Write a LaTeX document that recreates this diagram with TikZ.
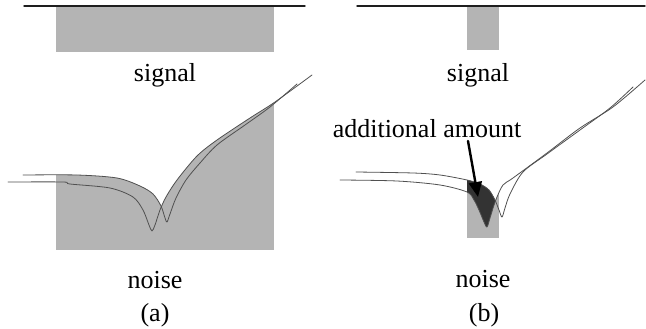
\documentclass[tikz,border=0pt]{standalone}
\usepackage{fontspec}
\setmainfont{Liberation Serif}
\usetikzlibrary{arrows.meta}
\definecolor{band}{HTML}{B4B4B4}
\definecolor{excess}{HTML}{333333}
\definecolor{trace}{HTML}{505050}
\definecolor{ink}{HTML}{1E1E1E}
\tikzset{
    every picture/.style={line cap=round,line join=round},
    axisline/.style={draw=ink,line width=1.4pt},
    bandfill/.style={fill=band},
    tracecurve/.style={draw=trace,line width=0.8pt},
    caption/.style={font=\fontsize{26}{30}\selectfont,inner sep=0pt,anchor=base},
    pointer/.style={-{Triangle[length=15pt,width=13pt]},draw=black,line width=2.4pt}
}
% the two measured curves of each panel
\newcommand\curveUa{plot[smooth,tension=0.5] coordinates {(23,175) (77,175) (117,178) (140,186) (153,194) (161,206) (165,218) (167,222) (170,214) (176,198) (186,180) (200,163) (217,145) (245,125) (270,107) (297,84)}}
\newcommand\curveLa{plot[smooth,tension=0.5] coordinates {(8,182) (63,182) (70,184) (110,188) (133,197) (143,210) (149,225) (152,231) (155,225) (160,210) (166,197) (177,180) (197,156) (217,140) (250,118) (275,102) (312,75)}}
\newcommand\curveUb{plot[smooth,tension=0.5] coordinates {(356,172) (413,173) (440,175) (467,180) (480,184) (489,190) (495,200) (499,210) (502,217) (505,208) (510,194) (523,172) (547,154) (580,130) (610,108) (633,87)}}
\newcommand\curveLb{plot[smooth,tension=0.5] coordinates {(340,180) (397,181) (440,185) (467,192) (474,200) (479,210) (484,222) (487,227) (490,218) (494,205) (497,197) (503,185) (513,178) (547,153) (580,128) (613,107) (645,80)}}

\begin{document}
\begin{tikzpicture}[x=1pt,y=-1pt]
  \useasboundingbox (0,0) rectangle (646,329);
  % (a)
  \fill[bandfill] (56,6) rectangle (274,52);
  \draw[axisline] (24,6) -- (305,6);
  \node[caption] (siga) at (165,82) {signal};
  \begin{scope}
    \clip \curveUa -- (297,329) -- (23,329) -- cycle;
    \fill[bandfill] (56,60) rectangle (274,250);
  \end{scope}
  \begin{scope}
    \clip \curveLa -- (312,329) -- (8,329) -- cycle;
    \fill[bandfill] (56,60) rectangle (274,250);
  \end{scope}
  \draw[tracecurve] \curveUa;
  \draw[tracecurve] \curveLa;
  \node[caption] (noisea) at (155,288) {noise};
  \node[caption] (laba) at (155,321) {(a)};
  % (b)
  \fill[bandfill] (467,6) rectangle (499,50);
  \draw[axisline] (357,6) -- (645,6);
  \node[caption] (sigb) at (478,82) {signal};
  \begin{scope}
    \clip \curveUb -- (633,329) -- (356,329) -- cycle;
    \fill[bandfill] (467,60) rectangle (499,238);
  \end{scope}
  \begin{scope}
    \clip \curveLb -- (645,329) -- (340,329) -- cycle;
    \fill[bandfill] (467,60) rectangle (499,238);
  \end{scope}
  \begin{scope}
    \clip (467,60) rectangle (499,238);
    \clip \curveUb -- (633,329) -- (356,329) -- cycle;
    \fill[excess] \curveLb -- (645,0) -- (340,0) -- cycle;
  \end{scope}
  \draw[tracecurve] \curveUb;
  \draw[tracecurve] \curveLb;
  \node[caption] (addl) at (427,138) {additional amount};
  \coordinate (tail) at (468,141);
  \coordinate (tip) at (478,197);
  \draw[pointer] (tail) -- (tip);
  \node[caption] (noiseb) at (483,287) {noise};
  \node[caption] (labb) at (484,321) {(b)};
\end{tikzpicture}
\end{document}
